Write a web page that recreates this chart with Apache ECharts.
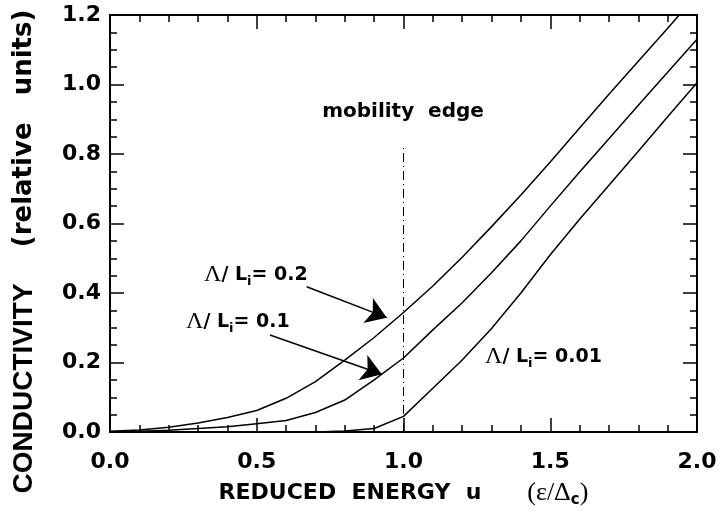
<!DOCTYPE html>
<html><head><meta charset="utf-8">
<script src="https://cdn.jsdelivr.net/npm/echarts@6/dist/echarts.min.js"></script>
<style>html,body{margin:0;padding:0;background:#fff}#c{width:725px;height:523px}</style>
</head><body><div id="c"></div>
<script>
// Reduced energy u (x values)
const energy = [0.0,0.1,0.2,0.3,0.4,0.5,0.6,0.7,0.8,0.9,1.0,1.1,1.2,1.3,1.4,1.5,1.6,1.7,1.8,1.9,2.0];
// Conductivity (relative units) for Λ/Li = 0.2, 0.1, 0.01
const sigma02  = [0.002,0.006,0.014,0.026,0.042,0.062,0.097,0.145,0.207,0.272,0.344,0.420,0.503,0.591,0.682,0.777,0.875,0.972,1.067,1.162,1.258];
const sigma01  = [0.000,0.002,0.005,0.010,0.015,0.024,0.033,0.056,0.092,0.150,0.213,0.294,0.372,0.458,0.550,0.650,0.748,0.844,0.940,1.035,1.130];
const sigma001 = [0.000,0.000,0.000,0.000,0.000,0.000,0.000,0.000,0.003,0.010,0.045,0.126,0.207,0.298,0.400,0.510,0.612,0.710,0.808,0.907,1.005];
const seriesNames = ['Λ/Li=0.2','Λ/Li=0.1','Λ/Li=0.01'];
const mobilityEdge = 1.0;

const FONT = 'DejaVu Sans';
const chart = echarts.init(document.getElementById('c'), null, {renderer:'canvas'});
const pairs = arr => energy.map((x,i)=>[x,arr[i]]);
const lineStyle = {color:'#000', width:1.5};

const tickCommon = {
  axisLine:{show:true, onZero:false, lineStyle:{color:'#000', width:2}},
  axisTick:{show:true, inside:true, length:14, lineStyle:{color:'#000', width:1.5}},
  minorTick:{show:true, length:7, lineStyle:{color:'#000', width:1.5}},
  splitLine:{show:false}, minorSplitLine:{show:false}
};
const annRich = {
  g:{fontFamily:'Liberation Serif', fontSize:24, fill:'#000', lineHeight:26},
  t:{fontFamily:FONT, fontWeight:'bold', fontSize:19, fill:'#000', lineHeight:26},
  s:{fontFamily:FONT, fontWeight:'bold', fontSize:13, fill:'#000', lineHeight:13, verticalAlign:'bottom'}
};

const option = {
  animation:false,
  backgroundColor:'#fff',
  grid:{left:110, right:28, top:15, bottom:91, containLabel:false},
  xAxis:[
    Object.assign({type:'value', min:0, max:2, interval:0.5, position:'bottom',
      name:'{t|REDUCED  ENERGY  u}{t|      }{e|(ε/Δ}{s|c}{e|)}',
      nameLocation:'middle', nameGap:46,
      nameTextStyle:{rich:{
        t:{fontFamily:FONT, fontWeight:'bold', fontSize:22, color:'#000', lineHeight:30, verticalAlign:'middle'},
        e:{fontFamily:'Liberation Serif', fontWeight:'normal', fontSize:26, color:'#000', lineHeight:30, verticalAlign:'middle'},
        s:{fontFamily:FONT, fontWeight:'bold', fontSize:15, color:'#000', lineHeight:14, verticalAlign:'bottom'}
      }},
      axisLabel:{show:true, margin:19, fontFamily:FONT, fontWeight:'bold', fontSize:22, color:'#000',
        formatter:v=>v.toFixed(1)}}, tickCommon, {minorTick:Object.assign({splitNumber:5}, tickCommon.minorTick)}),
    Object.assign({type:'value', min:0, max:2, interval:0.5, position:'top', axisLabel:{show:false}}, tickCommon,
      {minorTick:Object.assign({splitNumber:5}, tickCommon.minorTick)})
  ],
  yAxis:[
    Object.assign({type:'value', min:0, max:1.2, interval:0.2, position:'left',
      name:'{a|CONDUCTIVITY}{b|    (relative   units)}',
      nameLocation:'middle', nameGap:72, nameRotate:90,
      nameTextStyle:{padding:[0,56,0,0], rich:{
        a:{fontFamily:'Liberation Sans', fontWeight:'bold', fontSize:28, color:'#000'},
        b:{fontFamily:FONT, fontWeight:'bold', fontSize:26, color:'#000'}
      }},
      axisLabel:{show:true, margin:9, fontFamily:FONT, fontWeight:'bold', fontSize:22, color:'#000',
        formatter:v=>v.toFixed(1)}}, tickCommon, {minorTick:Object.assign({splitNumber:4}, tickCommon.minorTick)}),
    Object.assign({type:'value', min:0, max:1.2, interval:0.2, position:'right', axisLabel:{show:false}}, tickCommon,
      {minorTick:Object.assign({splitNumber:4}, tickCommon.minorTick)})
  ],
  series:[
    {name:seriesNames[0], type:'line', data:pairs(sigma02), showSymbol:false, symbol:'none', lineStyle, clip:true, silent:true,
      markLine:{silent:true, symbol:['none','arrow'], symbolSize:20, label:{show:false},
        lineStyle:{color:'#000', width:1.5, type:'solid'},
        data:[
          [{coord:[0.670,0.418]},{coord:[0.943,0.329]}],
          [{coord:[0.545,0.279]},{coord:[0.926,0.166]}]
        ]}},
    {name:seriesNames[1], type:'line', data:pairs(sigma01), showSymbol:false, symbol:'none', lineStyle, clip:true, silent:true,
      markLine:{silent:true, symbol:['none','none'], label:{show:false},
        lineStyle:{color:'#000', width:1, type:[9,4,1,4]},
        data:[[{coord:[mobilityEdge,0]},{coord:[mobilityEdge,0.82]}]]}},
    {name:seriesNames[2], type:'line', data:pairs(sigma001), showSymbol:false, symbol:'none', lineStyle, clip:true, silent:true}
  ],
  graphic:[
    {type:'text', position:[403,112], style:{text:'mobility  edge', x:0, y:0, align:'center', verticalAlign:'middle',
      fontFamily:FONT, fontWeight:'bold', fontSize:20, fill:'#000'}},
    {type:'text', position:[204,275], style:{text:'{g|Λ}{t|/ L}{s|i}{t|= 0.2}', x:0, y:0, align:'left', verticalAlign:'middle', rich:annRich}},
    {type:'text', position:[186,322], style:{text:'{g|Λ}{t|/ L}{s|i}{t|= 0.1}', x:0, y:0, align:'left', verticalAlign:'middle', rich:annRich}},
    {type:'text', position:[485,357], style:{text:'{g|Λ}{t|/ L}{s|i}{t|= 0.01}', x:0, y:0, align:'left', verticalAlign:'middle', rich:annRich}}
  ]
};
chart.setOption(option);
</script></body></html>
